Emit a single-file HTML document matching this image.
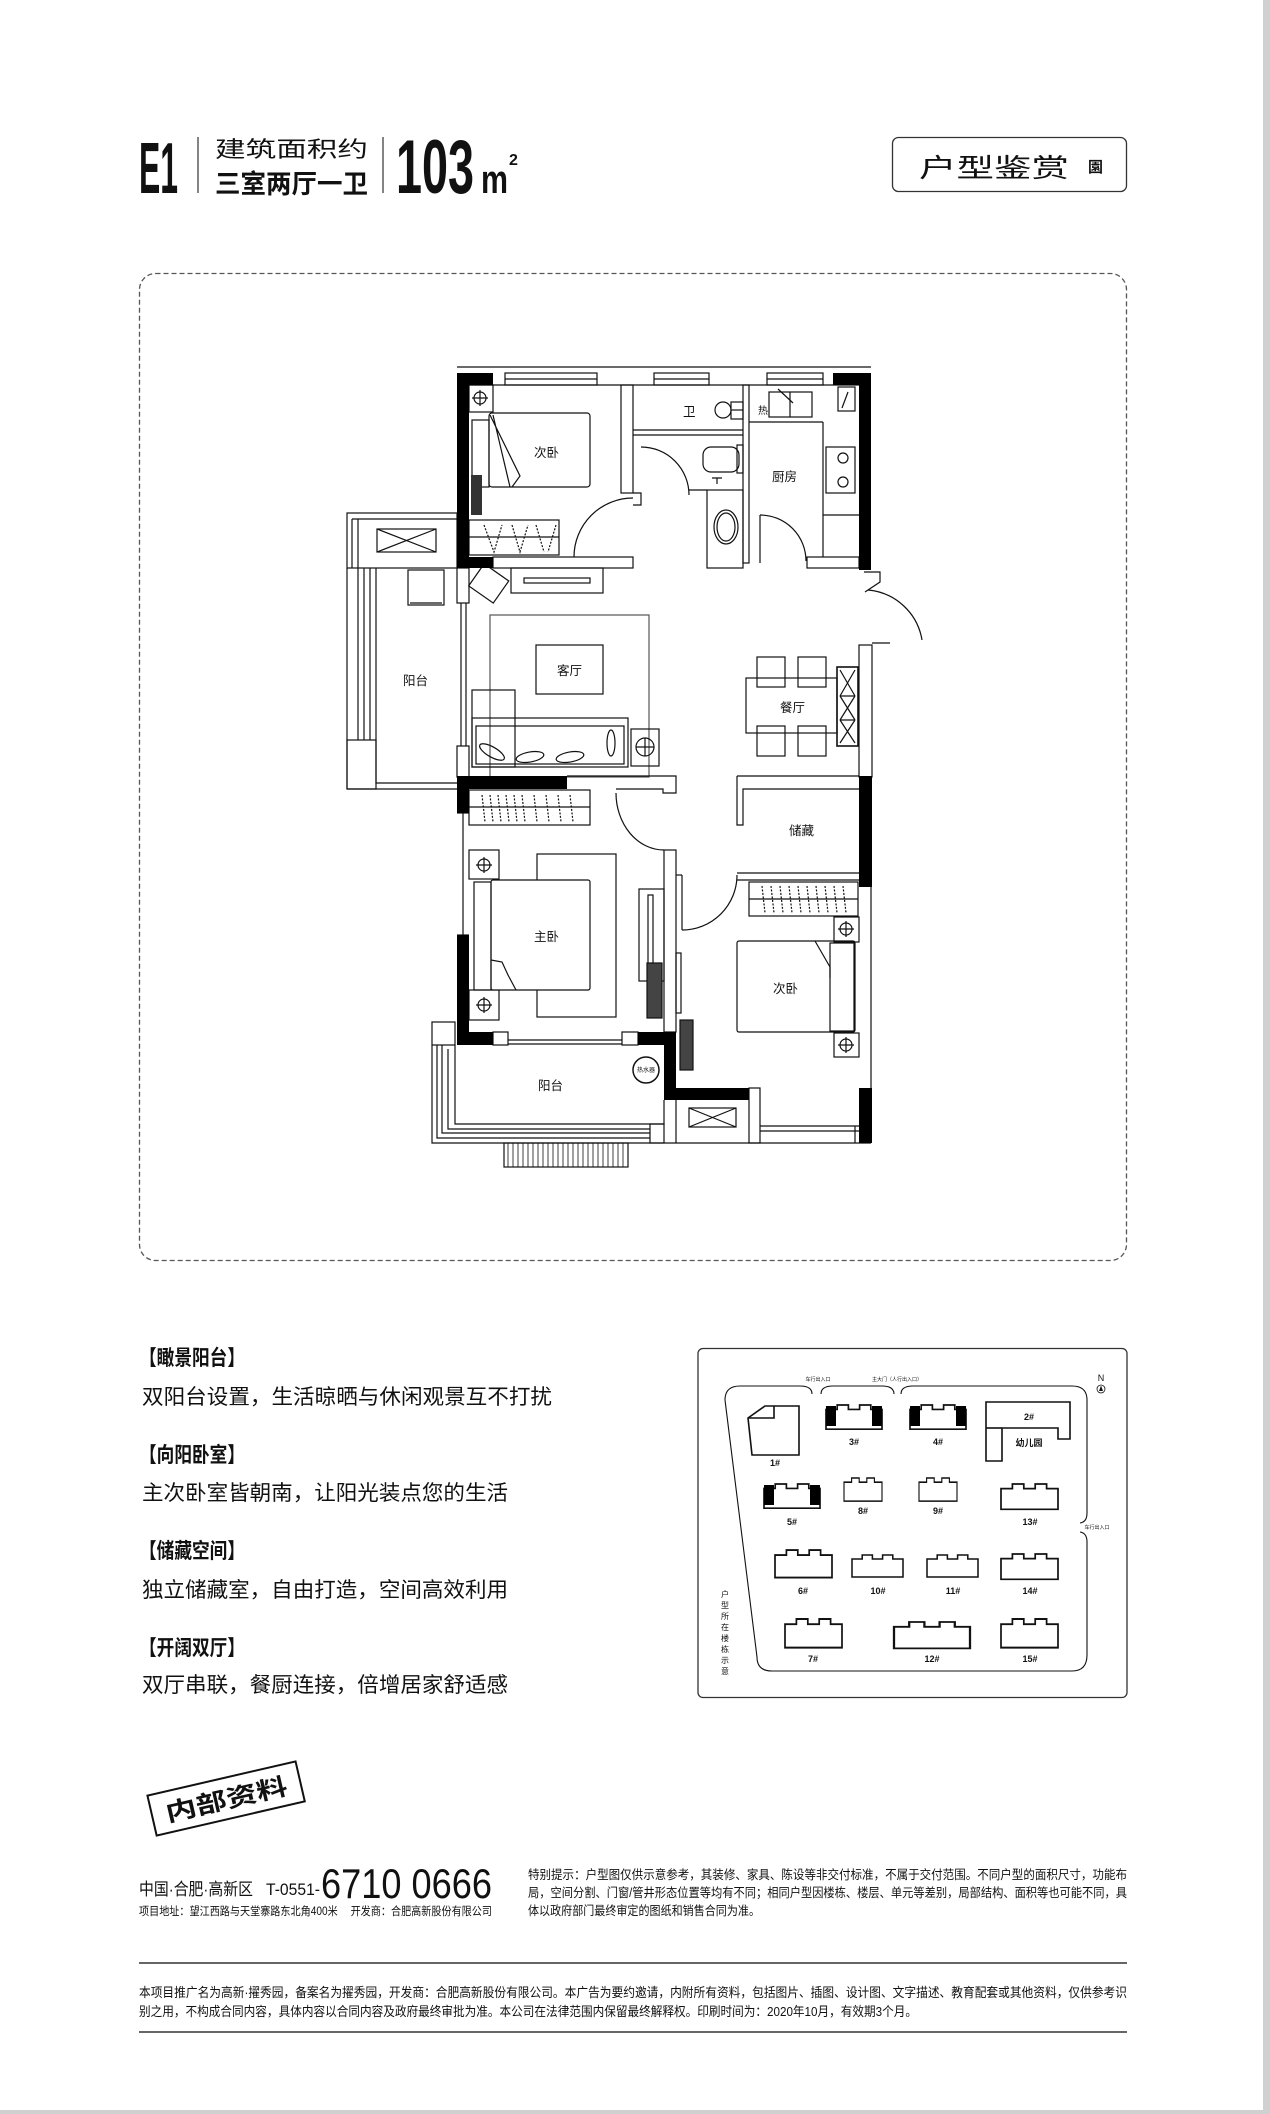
<!DOCTYPE html>
<html><head><meta charset="utf-8"><style>
html,body{margin:0;padding:0;background:#fff}
svg{display:block}
text{font-family:"Liberation Sans","Noto Sans CJK SC",sans-serif;fill:#111}
</style></head><body>
<svg width="1270" height="2114" viewBox="0 0 1270 2114" xmlns="http://www.w3.org/2000/svg">
<defs>
  <path id="b" d="M0 4 L10 4 L10 0 L20 0 L20 4 L30 4 L30 0 L40 0 L40 4 L50 4 L50 22 L0 22 Z"/>
</defs>
<rect x="0" y="0" width="1270" height="2114" fill="#fff"/>
<rect x="1263" y="0" width="7" height="2114" fill="#d0d0d0"/>
<rect x="0" y="2110" width="1270" height="4" fill="#d0d0d0"/>

<!-- HEADER -->
<text x="139" y="193" font-size="72" font-weight="bold" textLength="39" lengthAdjust="spacingAndGlyphs">E1</text>
<line x1="198" y1="137" x2="198" y2="193" stroke="#333" stroke-width="1.2"/>
<text x="215" y="157" font-size="22" textLength="153" lengthAdjust="spacingAndGlyphs">建筑面积约</text>
<text x="215" y="193" font-size="26" font-weight="bold" textLength="153" lengthAdjust="spacingAndGlyphs">三室两厅一卫</text>
<line x1="383" y1="137" x2="383" y2="193" stroke="#333" stroke-width="1.2"/>
<text x="396" y="193" font-size="76" font-weight="bold" textLength="78" lengthAdjust="spacingAndGlyphs">103</text>
<text x="481" y="193" font-size="40" font-weight="bold" textLength="27" lengthAdjust="spacingAndGlyphs">m</text>
<text x="509" y="165" font-size="16" font-weight="bold">2</text>
<rect x="892.5" y="137.5" width="234" height="54" rx="6" fill="none" stroke="#333" stroke-width="1.3"/>
<text x="919" y="177" font-size="26" textLength="150" lengthAdjust="spacingAndGlyphs">户型鉴赏</text>
<text x="1088" y="172" font-size="15" font-weight="bold">園</text>

<!-- Dashed frame -->
<rect x="139.5" y="273.5" width="987" height="987" rx="16" fill="none" stroke="#555" stroke-width="1.3" stroke-dasharray="5,3"/>

<!-- FLOOR PLAN -->
<g fill="none" stroke="#111" stroke-width="1.2">
  <line x1="457" y1="367" x2="871" y2="367"/>
  <rect x="505" y="373" width="92" height="12"/><line x1="505" y1="379" x2="597" y2="379"/>
  <rect x="654" y="373" width="55" height="12"/><line x1="654" y1="379" x2="709" y2="379"/>
  <rect x="767" y="373" width="56" height="12"/><line x1="767" y1="379" x2="823" y2="379"/>
  <line x1="457" y1="385" x2="871" y2="385"/>
  <rect x="621" y="385" width="12" height="108"/>
  <path d="M633 493 L641 493 L641 505 L633 505"/>
  <line x1="633" y1="430" x2="743" y2="430"/><line x1="633" y1="435" x2="743" y2="435"/>
  <rect x="743" y="385" width="6" height="178"/>
  <rect x="707" y="490" width="36" height="78"/>
  <line x1="689" y1="490" x2="707" y2="490"/>
  <rect x="493" y="557" width="140" height="11"/>
  <rect x="807" y="557" width="52" height="11"/>
  <line x1="749" y1="422" x2="823" y2="422"/><line x1="823" y1="422" x2="823" y2="557"/>
  <line x1="823" y1="515" x2="859" y2="515"/>
  <line x1="760" y1="515" x2="760" y2="563"/>
  <path d="M574 557 A59 59 0 0 1 633 498"/>
  <path d="M641 447 A48 48 0 0 1 689 495"/>
  <path d="M760 515 A46 46 0 0 1 806 561"/>
  <path d="M864 572 L880 572 L880 582 L865 592"/>
  <path d="M868 590 A60 60 0 0 1 922 640"/>
  <rect x="859" y="645" width="13" height="132"/>
  <line x1="872" y1="643" x2="890" y2="643"/>
  <rect x="347" y="513" width="110" height="55"/>
  <line x1="352" y1="519" x2="457" y2="519"/>
  <line x1="352" y1="519" x2="352" y2="568"/><line x1="358" y1="519" x2="358" y2="568"/>
  <rect x="377" y="529" width="59" height="23"/>
  <path d="M377 529 L436 552 M436 529 L377 552"/>
  <line x1="347" y1="568" x2="347" y2="789"/>
  <line x1="358" y1="568" x2="358" y2="740"/><line x1="364" y1="568" x2="364" y2="740"/><line x1="370" y1="568" x2="370" y2="740"/><line x1="376" y1="568" x2="376" y2="740"/>
  <rect x="347" y="740" width="29" height="49"/>
  <path d="M376 740 L376 783 L457 783"/><line x1="347" y1="789" x2="457" y2="789"/>
  <rect x="408" y="570" width="36" height="35"/>
  <line x1="410" y1="603" x2="442" y2="603"/>
  <rect x="457" y="568" width="12" height="35"/>
  <rect x="457" y="746" width="12" height="31"/>
  <line x1="461" y1="603" x2="461" y2="746"/><line x1="466" y1="603" x2="466" y2="746"/>
  <rect x="511" y="568" width="92" height="25"/>
  <rect x="524" y="578" width="66" height="5"/>
  <rect x="490" y="615" width="159" height="162" stroke="#555"/>
  <rect x="536" y="645" width="67" height="49"/>
  <rect x="472" y="690" width="43" height="77"/>
  <rect x="472" y="718" width="156" height="49"/>
  <rect x="476" y="726" width="148" height="38"/>
  <ellipse cx="492" cy="752" rx="14" ry="5" transform="rotate(30 492 752)"/>
  <ellipse cx="530" cy="757" rx="14" ry="5" transform="rotate(-10 530 757)"/>
  <ellipse cx="570" cy="757" rx="14" ry="5" transform="rotate(-10 570 757)"/>
  <ellipse cx="611" cy="743" rx="4" ry="13"/>
  <rect x="631" y="729" width="28" height="37"/>
  <circle cx="645" cy="747" r="9"/><path d="M636 747 L654 747 M645 738 L645 756"/>
  <g transform="rotate(35 489 583)"><rect x="474" y="570" width="30" height="27"/></g>
  <rect x="469" y="385" width="24" height="27"/>
  <circle cx="480" cy="398" r="6"/><path d="M472 398 L488 398 M480 390 L480 406"/>
  <rect x="489" y="413" width="101" height="74" rx="3"/>
  <path d="M490 415 L520 476 L512 487 M493 415 L510 487"/>
  <rect x="472" y="420" width="17" height="67"/>
  <rect x="469" y="520" width="90" height="35"/><line x1="469" y1="537" x2="559" y2="537"/>
  <path d="M484 525 L494 552 L502 525 M512 525 L520 552 L528 525 M536 525 L544 552 M556 525 L548 552" stroke-dasharray="2,1.5"/>
  <circle cx="723" cy="410" r="8"/><line x1="731" y1="410" x2="743" y2="410"/>
  <rect x="731" y="402" width="12" height="17"/>
  <rect x="703" y="447" width="36" height="25" rx="8"/>
  <rect x="737" y="445" width="6" height="28"/>
  <path d="M712 478 L722 478 M717 478 L717 484"/>
  <ellipse cx="726" cy="527" rx="12" ry="17"/>
  <ellipse cx="726" cy="527" rx="9" ry="14"/>
  <rect x="769" y="392" width="43" height="25"/><line x1="790" y1="392" x2="790" y2="417"/>
  <line x1="778" y1="389" x2="793" y2="403"/>
  <rect x="838" y="387" width="17" height="24"/><line x1="842" y1="408" x2="848" y2="392"/>
  <rect x="826" y="447" width="29" height="46"/>
  <circle cx="843" cy="458" r="5"/><circle cx="843" cy="482" r="5"/>
  <rect x="746" y="678" width="91" height="55"/>
  <rect x="757" y="657" width="28" height="30"/><rect x="798" y="657" width="28" height="30"/>
  <rect x="757" y="726" width="28" height="30"/><rect x="798" y="726" width="28" height="30"/>
  <rect x="837" y="667" width="21" height="79" stroke-width="1.6"/>
  <path d="M840 670 L855 696 M855 670 L840 696 M840 696 L855 720 M855 696 L840 720 M840 720 L855 743 M855 720 L840 743 M840 696 L855 696 M840 720 L855 720"/>
  <path d="M567 776 L676 776 L676 793 L663 793 L663 789 L616 789"/>
  <path d="M737 776 L859 776 M737 776 L737 825 L743 825 L743 789 L859 789"/>
  <line x1="737" y1="873" x2="859" y2="873"/><line x1="737" y1="880" x2="859" y2="880"/>
  <path d="M616 793 A48 57 0 0 0 664 850"/>
  <rect x="664" y="850" width="12" height="182"/>
  <line x1="457" y1="813" x2="469" y2="813"/><line x1="457" y1="935" x2="469" y2="935"/>
  <line x1="463" y1="813" x2="463" y2="935"/>
  <rect x="469" y="790" width="121" height="35"/><line x1="469" y1="807" x2="590" y2="807"/>
  <path d="M482 795 L485 822 M490 795 L493 822 M498 795 L501 822 M506 795 L509 822 M514 795 L517 822 M522 795 L525 822 M534 795 L537 822 M546 795 L549 822 M558 795 L561 822 M570 795 L573 822" stroke-dasharray="2,1.5"/>
  <rect x="537" y="854" width="79" height="163"/>
  <rect x="469" y="850" width="30" height="29"/><circle cx="484" cy="865" r="6"/><path d="M476 865 L492 865 M484 857 L484 873"/>
  <rect x="469" y="990" width="30" height="30"/><circle cx="484" cy="1005" r="6"/><path d="M476 1005 L492 1005 M484 997 L484 1013"/>
  <rect x="491" y="880" width="99" height="110" rx="2" fill="#fff"/>
  <rect x="474" y="882" width="17" height="108"/>
  <path d="M491 960 L502 962 L508 975 L516 990"/>
  <rect x="639" y="889" width="25" height="92"/>
  <rect x="648" y="895" width="5" height="80"/>
  <rect x="647" y="963" width="15" height="55" fill="#444"/>
  <path d="M737 875 A55 55 0 0 1 682 930"/>
  <line x1="676" y1="875" x2="682" y2="875"/><line x1="682" y1="875" x2="682" y2="930"/>
  <rect x="676" y="953" width="5" height="60"/>
  <rect x="680" y="1020" width="13" height="50" fill="#444"/>
  <rect x="749" y="882" width="109" height="34"/><line x1="749" y1="899" x2="858" y2="899"/>
  <path d="M762 886 L765 913 M771 886 L774 913 M780 886 L783 913 M789 886 L792 913 M798 886 L801 913 M807 886 L810 913 M816 886 L819 913 M825 886 L828 913 M834 886 L837 913 M843 886 L846 913" stroke-dasharray="2,1.5"/>
  <rect x="834" y="917" width="25" height="25"/><circle cx="846" cy="929" r="6"/><path d="M838 929 L854 929 M846 921 L846 937"/>
  <rect x="834" y="1033" width="25" height="24"/><circle cx="846" cy="1045" r="6"/><path d="M838 1045 L854 1045 M846 1037 L846 1053"/>
  <rect x="737" y="941" width="118" height="91" rx="2"/>
  <rect x="830" y="943" width="24" height="88"/>
  <path d="M815 941 L830 967 L830 978"/>
  <line x1="871" y1="887" x2="871" y2="1088"/>
  <rect x="432" y="1022" width="23" height="23"/>
  <rect x="493" y="1032" width="15" height="13"/><rect x="622" y="1032" width="16" height="13"/>
  <line x1="508" y1="1040" x2="622" y2="1040"/><line x1="508" y1="1044" x2="622" y2="1044"/>
  <path d="M432 1045 L432 1143 L871 1143"/>
  <path d="M455 1045 L455 1124 L664 1124 L664 1100"/>
  <path d="M437 1045 L437 1138 L650 1138 M442 1045 L442 1133 L650 1133 M448 1049 L448 1129 L650 1129"/>
  <rect x="650" y="1124" width="14" height="19"/>
  <circle cx="646" cy="1070" r="13" stroke-width="1.5"/>
  <rect x="504" y="1143" width="124" height="24"/>
  <path d="M508 1143 V1167 M513 1143 V1167 M518 1143 V1167 M523 1143 V1167 M528 1143 V1167 M533 1143 V1167 M538 1143 V1167 M543 1143 V1167 M548 1143 V1167 M553 1143 V1167 M558 1143 V1167 M563 1143 V1167 M568 1143 V1167 M573 1143 V1167 M578 1143 V1167 M583 1143 V1167 M588 1143 V1167 M593 1143 V1167 M598 1143 V1167 M603 1143 V1167 M608 1143 V1167 M613 1143 V1167 M618 1143 V1167 M623 1143 V1167" stroke-width="0.8"/>
  <line x1="676" y1="1100" x2="676" y2="1143"/>
  <rect x="689" y="1108" width="47" height="19"/><path d="M689 1108 L736 1127 M736 1108 L689 1127"/>
  <rect x="749" y="1088" width="11" height="55"/>
  <path d="M760 1126 L859 1126 M760 1131 L859 1131 M855 1126 L855 1143"/>
</g>
<g fill="#000">
  <rect x="457" y="373" width="36" height="12"/>
  <rect x="457" y="373" width="12" height="195"/>
  <rect x="457" y="557" width="36" height="11"/>
  <rect x="833" y="373" width="38" height="12"/>
  <rect x="859" y="373" width="12" height="197"/>
  <rect x="457" y="776" width="110" height="13"/>
  <rect x="457" y="776" width="12" height="37"/>
  <rect x="457" y="935" width="12" height="97"/>
  <rect x="457" y="1032" width="36" height="13"/>
  <rect x="638" y="1032" width="38" height="13"/>
  <rect x="664" y="1032" width="12" height="68"/>
  <rect x="664" y="1088" width="85" height="12"/>
  <rect x="859" y="776" width="13" height="111"/>
  <rect x="859" y="1088" width="13" height="55"/>
  <rect x="471" y="475" width="11" height="40" fill="#333"/>
</g>
<g font-size="12.5">
  <text x="534" y="457">次卧</text>
  <text x="683" y="416">卫</text>
  <text x="772" y="481">厨房</text>
  <text x="758" y="414" font-size="10">热</text>
  <text x="403" y="685">阳台</text>
  <text x="557" y="675">客厅</text>
  <text x="780" y="712">餐厅</text>
  <text x="789" y="835">储藏</text>
  <text x="534" y="941">主卧</text>
  <text x="773" y="993">次卧</text>
  <text x="538" y="1090">阳台</text>
  <text x="646" y="1072" font-size="6" text-anchor="middle">热水器</text>
</g>

<!-- FEATURES -->
<g font-size="21">
  <text x="139" y="1365" font-weight="bold" textLength="106" lengthAdjust="spacingAndGlyphs">【瞰景阳台】</text>
  <text x="142" y="1404" textLength="410" lengthAdjust="spacingAndGlyphs">双阳台设置，生活晾晒与休闲观景互不打扰</text>
  <text x="139" y="1462" font-weight="bold" textLength="106" lengthAdjust="spacingAndGlyphs">【向阳卧室】</text>
  <text x="142" y="1500" textLength="366" lengthAdjust="spacingAndGlyphs">主次卧室皆朝南，让阳光装点您的生活</text>
  <text x="139" y="1558" font-weight="bold" textLength="106" lengthAdjust="spacingAndGlyphs">【储藏空间】</text>
  <text x="142" y="1597" textLength="366" lengthAdjust="spacingAndGlyphs">独立储藏室，自由打造，空间高效利用</text>
  <text x="139" y="1655" font-weight="bold" textLength="106" lengthAdjust="spacingAndGlyphs">【开阔双厅】</text>
  <text x="142" y="1692" textLength="366" lengthAdjust="spacingAndGlyphs">双厅串联，餐厨连接，倍增居家舒适感</text>
</g>

<!-- SITE MAP -->
<rect x="698" y="1348.5" width="429" height="349" rx="5" fill="none" stroke="#333" stroke-width="1.3"/>
<g fill="none" stroke="#111" stroke-width="1.1">
  <path d="M812 1394 Q812 1386 800 1386 L740 1386 Q725 1386 725 1400"/>
  <path d="M821 1394 Q821 1386 833 1386 L882 1386 Q894 1386 894 1394"/>
  <path d="M901 1394 Q901 1386 913 1386 L1072 1386 Q1087 1386 1087 1400 L1087 1513 Q1087 1522 1080 1523"/>
  <path d="M1080 1532 Q1087 1533 1087 1542 L1087 1655 Q1087 1671 1072 1671 L772 1671 Q757 1671 757 1657 L725 1400"/>
</g>
<g fill="#fff" stroke="#111" stroke-width="1.6">
  <path d="M748 1418 L765 1406 L799 1406 L799 1455 L752 1455 Z"/><path d="M774 1406 L774 1418 L748 1418" fill="none"/>
  <path d="M986 1402 L1070 1402 L1070 1439 L1058 1439 L1058 1428 L1002 1428 L1002 1461 L986 1461 Z"/><line x1="986" y1="1428" x2="1002" y2="1428"/>
</g>
<g fill="#fff" stroke="#111" stroke-width="1.5">
  <use href="#b" transform="translate(826 1405) scale(1.12 1.1)"/>
  <use href="#b" transform="translate(910 1405) scale(1.12 1.1)"/>
  <use href="#b" transform="translate(764 1484) scale(1.12 1.1)"/>
  <use href="#b" transform="translate(844 1478) scale(0.76 1.05)"/>
  <use href="#b" transform="translate(919 1478) scale(0.76 1.05)"/>
  <use href="#b" transform="translate(1001 1484) scale(1.14 1.15)"/>
  <use href="#b" transform="translate(775 1550) scale(1.14 1.25)"/>
  <use href="#b" transform="translate(852 1555) scale(1.02 1.0)"/>
  <use href="#b" transform="translate(927 1555) scale(1.02 1.0)"/>
  <use href="#b" transform="translate(1001 1554) scale(1.14 1.15)"/>
  <use href="#b" transform="translate(785 1619) scale(1.14 1.3)"/>
  <use href="#b" transform="translate(894 1622) scale(1.52 1.2)"/>
  <use href="#b" transform="translate(1001 1619) scale(1.14 1.3)"/>
</g>
<g fill="#000">
  <rect x="826" y="1406" width="10" height="20"/><rect x="872" y="1406" width="10" height="20"/>
  <rect x="910" y="1406" width="10" height="20"/><rect x="956" y="1406" width="10" height="20"/>
  <rect x="764" y="1485" width="10" height="20"/><rect x="810" y="1485" width="10" height="20"/>
</g>
<g font-size="9" font-weight="bold" text-anchor="middle">
  <text x="775" y="1466">1#</text><text x="854" y="1445">3#</text><text x="938" y="1445">4#</text>
  <text x="1029" y="1420">2#</text><text x="1029" y="1446">幼儿园</text>
  <text x="792" y="1525">5#</text><text x="863" y="1514">8#</text><text x="938" y="1514">9#</text><text x="1030" y="1525">13#</text>
  <text x="803" y="1594">6#</text><text x="878" y="1594">10#</text><text x="953" y="1594">11#</text><text x="1030" y="1594">14#</text>
  <text x="813" y="1662">7#</text><text x="932" y="1662">12#</text><text x="1030" y="1662">15#</text>
</g>
<g font-size="5" text-anchor="middle">
  <text x="818" y="1381">车行出入口</text>
  <text x="897" y="1381">主大门（人行出入口）</text>
  <text x="1097" y="1529">车行出入口</text>
</g>
<text x="1101" y="1381" font-size="9" text-anchor="middle">N</text>
<circle cx="1101" cy="1389" r="4" fill="none" stroke="#111" stroke-width="0.8"/>
<path d="M1101 1385.5 L1103 1391 L1099 1391 Z" fill="#111"/>
<g font-size="8" text-anchor="middle">
  <text x="725" y="1597">户</text><text x="725" y="1608">型</text><text x="725" y="1619">所</text><text x="725" y="1630">在</text>
  <text x="725" y="1641">楼</text><text x="725" y="1652">栋</text><text x="725" y="1663">示</text><text x="725" y="1674">意</text>
</g>

<!-- STAMP -->
<g transform="rotate(-13 226 1798)">
  <rect x="150" y="1778" width="152" height="41" fill="none" stroke="#111" stroke-width="2"/>
  <text x="164" y="1808" font-size="24" font-weight="bold" textLength="124" lengthAdjust="spacingAndGlyphs">内部资料</text>
</g>

<!-- CONTACT -->
<text x="139" y="1895" font-size="17" textLength="114" lengthAdjust="spacingAndGlyphs">中国·合肥·高新区</text>
<text x="266" y="1895" font-size="17" font-family="Liberation Serif" textLength="54" lengthAdjust="spacingAndGlyphs">T-0551-</text>
<text x="321" y="1898" font-size="42" textLength="171" lengthAdjust="spacingAndGlyphs">6710 0666</text>
<text x="139" y="1915" font-size="11.5" textLength="353" lengthAdjust="spacingAndGlyphs">项目地址：望江西路与天堂寨路东北角400米　 开发商：合肥高新股份有限公司</text>
<g font-size="12.5">
  <text x="528" y="1879" textLength="599" lengthAdjust="spacingAndGlyphs">特别提示：户型图仅供示意参考，其装修、家具、陈设等非交付标准，不属于交付范围。不同户型的面积尺寸，功能布</text>
  <text x="528" y="1897" textLength="599" lengthAdjust="spacingAndGlyphs">局，空间分割、门窗/管井形态位置等均有不同；相同户型因楼栋、楼层、单元等差别，局部结构、面积等也可能不同，具</text>
  <text x="528" y="1915" textLength="232" lengthAdjust="spacingAndGlyphs">体以政府部门最终审定的图纸和销售合同为准。</text>
</g>
<line x1="139" y1="1963" x2="1127" y2="1963" stroke="#333" stroke-width="1.5"/>
<g font-size="13">
  <text x="139" y="1997" textLength="988" lengthAdjust="spacingAndGlyphs">本项目推广名为高新·擢秀园，备案名为擢秀园，开发商：合肥高新股份有限公司。本广告为要约邀请，内附所有资料，包括图片、插图、设计图、文字描述、教育配套或其他资料，仅供参考识</text>
  <text x="139" y="2016" textLength="778" lengthAdjust="spacingAndGlyphs">别之用，不构成合同内容，具体内容以合同内容及政府最终审批为准。本公司在法律范围内保留最终解释权。印刷时间为：2020年10月，有效期3个月。</text>
</g>
<line x1="139" y1="2032" x2="1127" y2="2032" stroke="#333" stroke-width="1.5"/>
</svg>
</body></html>
